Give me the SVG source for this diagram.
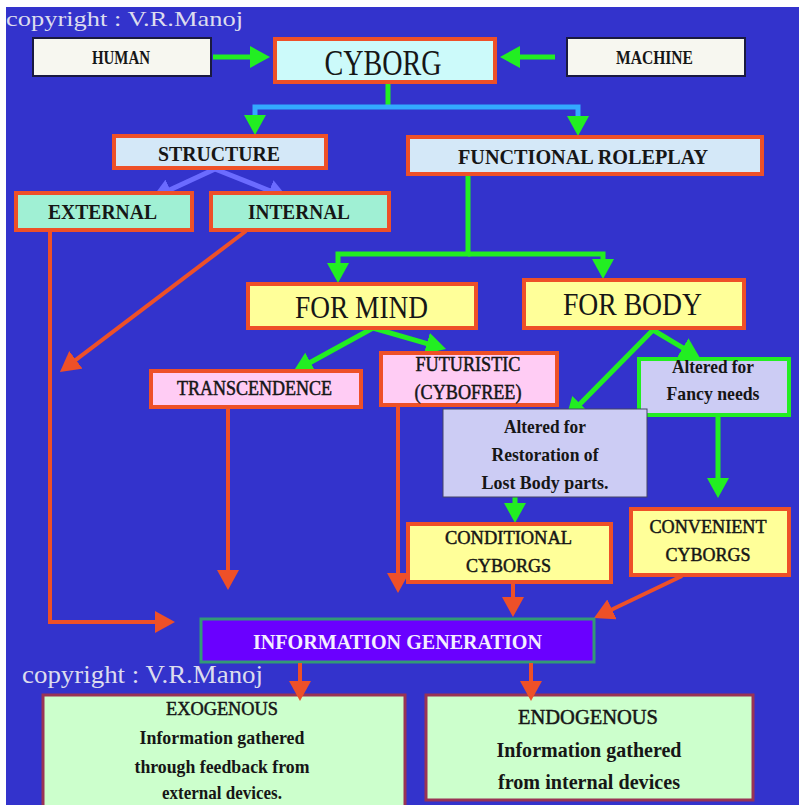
<svg xmlns="http://www.w3.org/2000/svg" width="799" height="805" viewBox="0 0 799 805">
<style>
text{font-family:"Liberation Serif","Times New Roman",serif;text-anchor:middle;fill:#161616}
.b{font-weight:bold}
.sb{stroke:#161616;stroke-width:0.5}
.red{fill:none;stroke:#ee5028;stroke-width:4}
.grn{fill:none;stroke:#22ee22;stroke-width:5}
.pur{fill:none;stroke:#6b6bff;stroke-width:5}
.wbox{fill:#f7f7f0;stroke:#1a1a40;stroke-width:2}
.rb{stroke:#ee5028;stroke-width:4}
.cy{fill:#ccfafa}
.lb{fill:#d4e8f8}
.aq{fill:#a0f0d4}
.ye{fill:#ffff99}
.pk{fill:#ffccf4}
.lav{fill:#ccccf4}
.gr{fill:#ccffcc;stroke:#993355;stroke-width:3}
.copy{fill:#dcdcee;text-anchor:start}
</style>
<defs>
<marker id="hg" markerUnits="userSpaceOnUse" markerWidth="20" markerHeight="22" refX="3" refY="11" orient="auto"><path d="M0,0 L20,11 L0,22 z" fill="#22ee22"/></marker>
<marker id="hr" markerUnits="userSpaceOnUse" markerWidth="20" markerHeight="22" refX="3" refY="11" orient="auto"><path d="M0,0 L20,11 L0,22 z" fill="#ee5028"/></marker>
<marker id="hp" markerUnits="userSpaceOnUse" markerWidth="20" markerHeight="22" refX="3" refY="11" orient="auto"><path d="M0,0 L20,11 L0,22 z" fill="#6b6bff"/></marker>
</defs>
<rect x="0" y="0" width="799" height="805" fill="#ffffff"/>
<rect x="6" y="7" width="793" height="798" fill="#3333cc"/>

<text class="copy" x="6" y="26" font-size="21" textLength="237" lengthAdjust="spacingAndGlyphs">copyright : V.R.Manoj</text>

<g id="connectors">
<line class="grn" x1="213" y1="57" x2="253" y2="57" marker-end="url(#hg)"/>
<line class="grn" x1="555" y1="57" x2="517" y2="57" marker-end="url(#hg)"/>
<line class="grn" x1="388" y1="83" x2="388" y2="107"/>
<path d="M255,120 V107 H578 V120" fill="none" stroke="#33aaff" stroke-width="5"/>
<line class="grn" x1="255" y1="115" x2="255" y2="118" marker-end="url(#hg)"/>
<line class="grn" x1="578" y1="116" x2="578" y2="119" marker-end="url(#hg)"/>
<line class="pur" x1="215" y1="169" x2="167.4" y2="190.9" marker-end="url(#hp)"/>
<line class="pur" x1="215" y1="169" x2="272.2" y2="191.7" marker-end="url(#hp)"/>
<path class="grn" d="M468,174 V254 H338 V266" marker-end="url(#hg)"/>
<path class="grn" d="M468,254 H603 V262" marker-end="url(#hg)"/>
<line class="grn" x1="373" y1="328" x2="307.9" y2="363.8" marker-end="url(#hg)"/>
<line class="grn" x1="373" y1="328" x2="429.7" y2="344.3" marker-end="url(#hg)"/>
<line class="grn" x1="653" y1="330" x2="578" y2="405.9" marker-end="url(#hg)"/>
<line class="grn" x1="653" y1="330" x2="685.4" y2="349.3" marker-end="url(#hg)"/>
<line class="grn" x1="515" y1="497" x2="515" y2="506" marker-end="url(#hg)"/>
<line class="grn" x1="718" y1="416" x2="718" y2="481" marker-end="url(#hg)"/>
<path class="red" d="M50,231 V622 H158" marker-end="url(#hr)"/>
<line class="red" x1="246" y1="231" x2="73.5" y2="361.7" marker-end="url(#hr)"/>
<line class="red" x1="228" y1="408" x2="228" y2="573" marker-end="url(#hr)"/>
<line class="red" x1="398" y1="406" x2="398" y2="576" marker-end="url(#hr)"/>
<line class="red" x1="513" y1="583" x2="513" y2="600" marker-end="url(#hr)"/>
<line class="red" x1="682" y1="576" x2="609.3" y2="610.7" marker-end="url(#hr)"/>
</g>

<g id="human"><rect class="wbox" x="33" y="38" width="178" height="38"/><text class="b" x="121" y="64" font-size="19" textLength="58" lengthAdjust="spacingAndGlyphs">HUMAN</text></g>
<g id="machine"><rect class="wbox" x="567" y="38" width="178" height="38"/><text class="b" x="654.5" y="64" font-size="19" textLength="77" lengthAdjust="spacingAndGlyphs">MACHINE</text></g>
<g id="cyborg"><rect class="cy rb" x="275" y="39" width="220" height="43"/><text x="383" y="75" font-size="36" textLength="117" lengthAdjust="spacingAndGlyphs">CYBORG</text></g>
<g id="structure"><rect class="lb rb" x="114" y="136" width="212" height="32"/><text class="b" x="219" y="161" font-size="22" textLength="122" lengthAdjust="spacingAndGlyphs">STRUCTURE</text></g>
<g id="functional"><rect class="lb rb" x="408" y="137" width="354" height="37"/><text class="b" x="583" y="164" font-size="22" textLength="250" lengthAdjust="spacingAndGlyphs">FUNCTIONAL ROLEPLAY</text></g>
<g id="external"><rect class="aq rb" x="16" y="193" width="176" height="37"/><text class="b" x="102.5" y="219" font-size="22" textLength="109" lengthAdjust="spacingAndGlyphs">EXTERNAL</text></g>
<g id="internal"><rect class="aq rb" x="211" y="193" width="178" height="37"/><text class="b" x="299" y="219" font-size="22" textLength="102" lengthAdjust="spacingAndGlyphs">INTERNAL</text></g>
<g id="formind"><rect class="ye rb" x="248" y="284" width="228" height="44"/><text x="361.5" y="318" font-size="32" textLength="133" lengthAdjust="spacingAndGlyphs">FOR MIND</text></g>
<g id="forbody"><rect class="ye rb" x="524" y="280" width="220" height="48"/><text x="632.5" y="315" font-size="32" textLength="139" lengthAdjust="spacingAndGlyphs">FOR BODY</text></g>
<g id="transcendence"><rect class="pk rb" x="151" y="371" width="210" height="36"/><text class="sb" x="254.5" y="395" font-size="20" textLength="155" lengthAdjust="spacingAndGlyphs">TRANSCENDENCE</text></g>
<g id="futuristic"><rect class="pk rb" x="381" y="353" width="176" height="52"/><text class="sb" x="468" y="371" font-size="20" textLength="105" lengthAdjust="spacingAndGlyphs">FUTURISTIC</text><text class="sb" x="468" y="399" font-size="20" textLength="107" lengthAdjust="spacingAndGlyphs">(CYBOFREE)</text></g>
<g id="fancy"><rect class="lav" x="639" y="359" width="150" height="56" stroke="#22ee22" stroke-width="4"/><text class="b" x="713" y="373" font-size="19" textLength="82" lengthAdjust="spacingAndGlyphs">Altered for</text><text class="b" x="713" y="400" font-size="19" textLength="93" lengthAdjust="spacingAndGlyphs">Fancy needs</text></g>
<g id="restoration"><rect class="lav" x="443" y="409" width="204" height="88" stroke="#444466" stroke-width="1"/><text class="b" x="545" y="433" font-size="19" textLength="82" lengthAdjust="spacingAndGlyphs">Altered for</text><text class="b" x="545" y="461" font-size="19" textLength="107" lengthAdjust="spacingAndGlyphs">Restoration of</text><text class="b" x="545" y="489" font-size="19" textLength="127" lengthAdjust="spacingAndGlyphs">Lost Body parts.</text></g>
<g id="conditional"><rect class="ye rb" x="408" y="524" width="203" height="58"/><text class="sb" x="508.5" y="544" font-size="19" textLength="127" lengthAdjust="spacingAndGlyphs">CONDITIONAL</text><text class="sb" x="508.5" y="572" font-size="19" textLength="85" lengthAdjust="spacingAndGlyphs">CYBORGS</text></g>
<g id="convenient"><rect class="ye rb" x="631" y="509" width="158" height="66"/><text class="sb" x="708" y="533" font-size="19" textLength="117" lengthAdjust="spacingAndGlyphs">CONVENIENT</text><text class="sb" x="708" y="561" font-size="19" textLength="85" lengthAdjust="spacingAndGlyphs">CYBORGS</text></g>
<g id="infogen"><rect x="201" y="619" width="393" height="43" fill="#6a00ff" stroke="#339977" stroke-width="3"/><text class="b" x="397.5" y="649" font-size="21" style="fill:#f4eeff" textLength="289" lengthAdjust="spacingAndGlyphs">INFORMATION GENERATION</text></g>

<text class="copy" x="22" y="683" font-size="25" textLength="241" lengthAdjust="spacingAndGlyphs">copyright : V.R.Manoj</text>

<g id="exogenous"><rect class="gr" x="43" y="695" width="362" height="120"/><text class="sb" x="222" y="715" font-size="19" textLength="112" lengthAdjust="spacingAndGlyphs">EXOGENOUS</text><text class="b" x="222" y="744" font-size="19" textLength="165" lengthAdjust="spacingAndGlyphs">Information gathered</text><text class="b" x="222" y="773" font-size="19" textLength="175" lengthAdjust="spacingAndGlyphs">through feedback from</text><text class="b" x="222" y="799" font-size="19" textLength="120" lengthAdjust="spacingAndGlyphs">external devices.</text></g>
<g id="endogenous"><rect class="gr" x="426" y="695" width="327" height="105"/><text class="sb" x="588" y="724" font-size="22" textLength="140" lengthAdjust="spacingAndGlyphs">ENDOGENOUS</text><text class="b" x="589" y="757" font-size="21" textLength="185" lengthAdjust="spacingAndGlyphs">Information gathered</text><text class="b" x="589" y="789" font-size="21" textLength="182" lengthAdjust="spacingAndGlyphs">from internal devices</text></g>

<g id="connectors-lower">
<line class="red" x1="300" y1="663" x2="300" y2="684" marker-end="url(#hr)"/>
<line class="red" x1="531" y1="663" x2="531" y2="684" marker-end="url(#hr)"/>
</g>
</svg>
